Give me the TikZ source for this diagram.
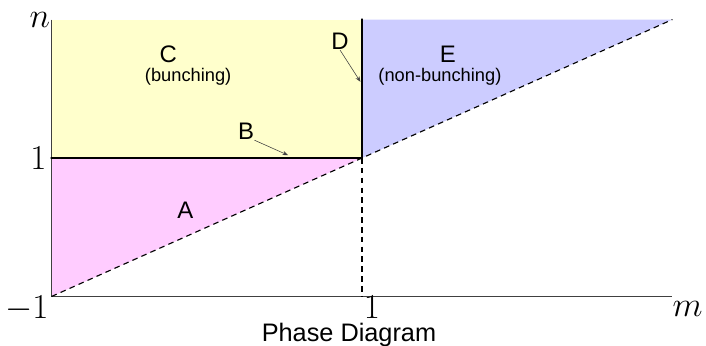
\documentclass[tikz,border=0pt]{standalone}
\usepackage{fontspec}
\newfontfamily\helv{Liberation Sans}
\usetikzlibrary{positioning, arrows.meta, calc}

\definecolor{regA}{RGB}{255,204,255}
\definecolor{regC}{RGB}{255,255,204}
\definecolor{regE}{RGB}{204,204,255}

\begin{document}
\begin{tikzpicture}[x=3.881cm, y=1.731cm, >=stealth]
\tikzset{reg/.style={font=\helv\fontsize{17}{19}\selectfont, inner sep=0pt}, sub/.style={font=\helv\fontsize{13}{15}\selectfont, inner sep=0pt}, mlab/.style={font=\fontsize{23}{25}\selectfont, inner sep=0pt}, ptr/.style={-{Stealth[length=4pt, width=3pt]}, line width=0.4pt, draw=black!75}, border/.style={line width=2.1pt, line cap=round}, guide/.style={dashed, line width=0.8pt, dash pattern=on 4pt off 3pt}}
\useasboundingbox (-1.332,-1.715) rectangle (3.216,3.282);
\coordinate (O) at (-1,-1); \coordinate (P) at (1,1); \coordinate (Q) at (3,3);
\coordinate (L) at (-1,1); \coordinate (T) at (1,3); \coordinate (TL) at (-1,3);
% regions
\fill[regA] (O) -- (P) -- (L) -- cycle;
\fill[regC] (L) rectangle (T);
\fill[regE] (P) -- (Q) -- (T) -- cycle;
% axes
\draw[line width=1pt, black!75] (TL) -- (O) -- (3,-1);
\draw[guide] (O) -- (Q);
\draw[guide] (P) -- (1,-1);
\draw[border] (L) -- (P) -- (T);
% labels
\node[mlab] (nlab) at (-1.075,2.99) {$n$};
\node[mlab] (one) at (-1.085,1.0) {$1$};
\node[mlab] (mone) at (-1.16,-1.17) {$-1$};
\node[mlab] (oneb) at (1.064,-1.16) {$1$};
\node[mlab] (mlab) at (3.097,-1.18) {$m$};
\node[font=\helv\fontsize{18}{20}\selectfont, inner sep=0pt] (title) at (0.916,-1.55) {Phase Diagram};
\node[reg] (A) at (-0.138,0.246) {A};
\node[reg] (B) at (0.254,1.38) {B};
\node[reg] (C) at (-0.248,2.5) {C};
\node[sub] (Cs) at (-0.12,2.17) {(bunching)};
\node[reg] (D) at (0.859,2.68) {D};
\node[reg] (E) at (1.553,2.5) {E};
\node[sub] (Es) at (1.502,2.17) {(non-bunching)};
% pointers
\coordinate (Bt) at (0.524,1.04);
\coordinate (Dt) at (0.99,2.1);
\draw[ptr] (B.south east) -- (Bt);
\draw[ptr] (D.south) -- (Dt);
\end{tikzpicture}
\end{document}
